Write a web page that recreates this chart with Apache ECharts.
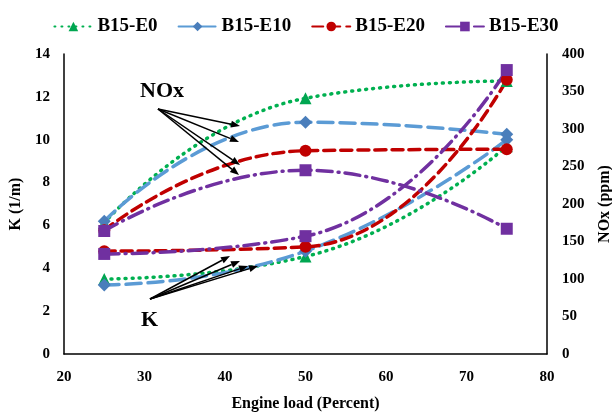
<!DOCTYPE html>
<html>
<head>
<meta charset="utf-8">
<script src="https://cdn.jsdelivr.net/npm/echarts@6/dist/echarts.min.js"></script>
<style>
  html, body { margin: 0; padding: 0; background: #fff; }
  #main { width: 612px; height: 413px; }
</style>
</head>
<body>
<div id="main"></div>
<script>
// engine load (%)
const loads = [25, 50, 75];
const names = ['B15-E0', 'B15-E10', 'B15-E20', 'B15-E30'];

// K (1/m), left axis
const kE0 = [3.5, 4.55, 9.7];
const kE10 = [3.22, 4.8, 10.0];
const kE20 = [4.8, 5.0, 12.8];
const kE30 = [4.67, 5.5, 13.25];

// NOx (ppm), right axis
const noxE0 = [175, 341, 364];
const noxE10 = [177, 309, 293];
const noxE20 = [165, 271, 273];
const noxE30 = [164, 245, 167];

const FONT = '"Liberation Serif", "Times New Roman", serif';

const styles = [
    { color: '#00b050', symbol: 'triangle', size: 12, type: [1, 6], mark: '#00a651' },
    { color: '#5b9bd5', symbol: 'diamond', size: 13, type: [15, 7], mark: '#4a7ebb' },
    { color: '#c00000', symbol: 'circle', size: 12, type: [11, 6], mark: '#c00000' },
    { color: '#7030a0', symbol: 'rect', size: 12, type: [15, 6, 1, 6], mark: '#7030a0' }
];

function pairs(ys) {
    return loads.map((x, i) => [x, ys[i]]);
}

function makeSeries(name, ys, st, yIndex) {
    return {
        name: name,
        type: 'line',
        yAxisIndex: yIndex,
        smooth: 0.5,
        data: pairs(ys),
        symbol: st.symbol,
        symbolSize: st.size,
        itemStyle: { color: st.mark },
        lineStyle: { color: st.color, width: 3.5, type: st.type, cap: 'round' },
        z: 3
    };
}

const kData = [kE0, kE10, kE20, kE30];
const noxData = [noxE0, noxE10, noxE20, noxE30];
let series = [];
for (let i = 0; i < 4; i++) {
    series.push(makeSeries(names[i], kData[i], styles[i], 0));
    series.push(makeSeries(names[i], noxData[i], styles[i], 1));
}

// annotation arrows (pixel positions)
function arrow(x1, y1, x2, y2) {
    const ang = Math.atan2(y2 - y1, x2 - x1);
    const len = 9, w = 3.5;
    const bx = x2 - len * Math.cos(ang), by = y2 - len * Math.sin(ang);
    const px = -Math.sin(ang) * w, py = Math.cos(ang) * w;
    return [
        { type: 'line', shape: { x1: x1, y1: y1, x2: bx, y2: by }, style: { stroke: '#000', lineWidth: 1.5 }, z: 10 },
        { type: 'polygon', shape: { points: [[x2, y2], [bx + px, by + py], [bx - px, by - py]] }, style: { fill: '#000' }, z: 10 }
    ];
}

let graphics = [
    { type: 'text', left: 140, top: 80, style: { text: 'NOx', font: 'bold 22px ' + FONT, fill: '#000' }, z: 10 },
    { type: 'text', left: 141, top: 309, style: { text: 'K', font: 'bold 22px ' + FONT, fill: '#000' }, z: 10 }
];
[[240, 126], [239, 142], [240, 165], [239, 175]].forEach(t => {
    graphics = graphics.concat(arrow(158, 109, t[0], t[1]));
});
[[230, 256], [240, 261], [248, 266], [258, 266]].forEach(t => {
    graphics = graphics.concat(arrow(150, 299, t[0], t[1]));
});

const axisText = { fontFamily: FONT, fontWeight: 'bold', fontSize: 15, color: '#000' };
const nameText = { fontFamily: FONT, fontWeight: 'bold', fontSize: 16, color: '#000' };

let myChart = echarts.init(document.getElementById('main'));
let option = {
    animation: false,
    backgroundColor: '#fff',
    legend: {
        top: 12,
        left: 'center',
        data: names,
        itemWidth: 38,
        itemHeight: 12,
        itemGap: 20,
        textStyle: { fontFamily: FONT, fontWeight: 'bold', fontSize: 19, color: '#000' }
    },
    grid: { left: 64, right: 65, top: 54, bottom: 59, outerBoundsMode: 'none' },
    xAxis: {
        type: 'value',
        min: 20, max: 80, interval: 10,
        name: 'Engine load (Percent)',
        nameLocation: 'middle',
        nameGap: 42,
        nameTextStyle: nameText,
        axisLine: { lineStyle: { color: '#000', width: 1.5 } },
        axisTick: { show: false },
        splitLine: { show: false },
        axisLabel: Object.assign({ margin: 16 }, axisText)
    },
    yAxis: [
        {
            type: 'value',
            min: 0, max: 14, interval: 2,
            name: 'K (1/m)',
            nameLocation: 'middle',
            nameGap: 26,
            nameTextStyle: nameText,
            axisLine: { show: true, lineStyle: { color: '#000', width: 1.5 } },
            axisTick: { show: false },
            splitLine: { show: false },
            axisLabel: Object.assign({ margin: 14 }, axisText)
        },
        {
            type: 'value',
            min: 0, max: 400, interval: 50,
            name: 'NOx (ppm)',
            nameLocation: 'middle',
            nameGap: 50,
            nameTextStyle: nameText,
            position: 'right',
            axisLine: { show: true, lineStyle: { color: '#000', width: 1.5 } },
            axisTick: { show: false },
            splitLine: { show: false },
            axisLabel: Object.assign({ margin: 15 }, axisText)
        }
    ],
    series: series,
    graphic: graphics
};
myChart.setOption(option);
</script>
</body>
</html>
